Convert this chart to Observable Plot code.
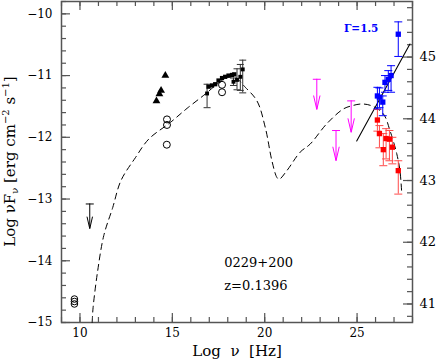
<!DOCTYPE html>
<html><head><meta charset="utf-8">
<script src="https://cdn.jsdelivr.net/npm/d3@7"></script>
<script src="https://cdn.jsdelivr.net/npm/@observablehq/plot@0.6"></script>
<style>body{margin:0;background:#fff;} svg{display:block}</style>
</head><body><div id="chart"></div>
<script>
// ---- data (log nu [Hz], log nuFnu [erg cm^-2 s^-1]) ----
const modelLogNu = [10.66, 10.71, 10.96, 11.29, 11.77, 12.22, 13.0, 13.72, 14.89, 15.8, 16.78, 17.5, 18.0, 18.4, 18.95, 19.58, 20.03, 20.39, 20.66, 20.78, 21.2, 21.92, 22.46, 23.36, 24.26, 24.71, 25.25, 25.79, 26.42, 26.78, 27.15, 27.32, 27.42];
const modelLogF  = [-15.0, -14.76, -14.16, -13.59, -13.14, -12.70, -12.33, -12.03, -11.76, -11.53, -11.30, -11.12, -11.03, -11.03, -11.19, -11.41, -11.84, -12.38, -12.65, -12.68, -12.54, -12.24, -12.11, -11.78, -11.54, -11.49, -11.46, -11.49, -11.62, -11.89, -12.27, -12.54, -12.92];

const radioLogNu = [9.70, 9.70, 9.70];
const radioLogF  = [-14.62, -14.66, -14.70];

const radioULLogNu = [10.53];
const radioULTop   = [-13.08];
const radioULTip   = [-13.48];

const irLogNu = [14.14, 14.30, 14.39, 14.62];
const irLogF  = [-11.41, -11.30, -11.24, -11.00];

const optCircLogNu = [14.71, 14.71, 14.70, 17.69, 17.69];
const optCircLogF  = [-11.71, -11.80, -12.12, -11.15, -11.27];

const xLogNu = [16.96, 17.15, 17.32, 17.50, 17.69, 17.86, 18.04, 18.23, 18.35];
const xLogF  = [-11.18, -11.16, -11.14, -11.08, -11.04, -11.02, -11.00, -10.99, -10.98];

const errLogNu = [16.88, 18.31, 18.50, 18.68, 18.81];
const errLogF  = [-11.29, -11.10, -11.07, -11.02, -10.90];
const errLo    = [-11.52, -11.16, -11.23, -11.24, -11.28];
const errHi    = [-11.14, -11.04, -10.89, -10.82, -10.75];

const magULLogNu = [22.82, 23.86, 24.68];
const magULTop   = [-11.06, -11.89, -11.41];
const magULTip   = [-11.55, -12.38, -11.92];

const blueLogNu = [26.10, 26.21, 26.39, 26.51, 26.69, 26.84, 27.23];
const blueLogF  = [-11.33, -11.35, -11.43, -11.11, -11.06, -11.00, -10.33];
const blueLo    = [-11.54, -11.52, -11.65, -11.27, -11.24, -11.27, -10.69];
const blueHi    = [-11.19, -11.20, -11.33, -11.00, -10.92, -10.84, -10.13];

const redLogNu = [26.10, 26.21, 26.57, 26.75, 26.42, 26.91, 27.23];
const redLogF  = [-11.72, -11.94, -12.02, -12.03, -12.20, -12.16, -12.54];
const redLo    = [-11.90, -12.17, -12.35, -12.38, -12.46, -12.43, -12.92];
const redHi    = [-11.55, -11.81, -11.86, -11.89, -11.94, -12.00, -12.38];

const plLogNu = [24.98, 27.86];
const plLogF  = [-12.06, -10.49];

// axes
const xMajor = [10, 15, 20, 25];
const xMinor = d3.range(9, 29, 1);
const yMajor = [-15, -14, -13, -12, -11, -10];
const yMinor = d3.range(-15, -9.79, 0.2);
const lumOffset = 55.70;
const lumMajor = [41, 42, 43, 44, 45];
const lumMinor = d3.range(40.8, 45.81, 0.2);

const labels = ["0229+200", "z=0.1396"];
const labelLogNu = [17.81, 17.81];
const labelLogF = [-14.03, -14.40];
const gammaText = ["Γ=1.5"];
const gammaLogNu = [25.22];
const gammaLogF = [-10.24];

// ---- helpers ----
const zip = (xs, ys, extra = {}) => xs.map((x, i) => {
  const o = {x, y: ys[i]};
  for (const k in extra) o[k] = extra[k][i];
  return o;
});
const capSym = {draw(ctx, size) { const w = Math.sqrt(size / Math.PI); ctx.moveTo(-w, 0); ctx.lineTo(w, 0); }};
const headSym = {draw(ctx, size) { const h = Math.sqrt(size / Math.PI); const w = h * 0.23; ctx.moveTo(-w, -h); ctx.lineTo(0, 0); ctx.lineTo(w, -h); }};

const model = zip(modelLogNu, modelLogF);
const radio = zip(radioLogNu, radioLogF);
const radioUL = zip(radioULLogNu, radioULTop, {tip: radioULTip});
const ir = zip(irLogNu, irLogF);
const optCirc = zip(optCircLogNu, optCircLogF);
const xcl = zip(xLogNu, xLogF);
const err = zip(errLogNu, errLogF, {lo: errLo, hi: errHi});
const magUL = zip(magULLogNu, magULTop, {tip: magULTip});
const blue = zip(blueLogNu, blueLogF, {lo: blueLo, hi: blueHi});
const red = zip(redLogNu, redLogF, {lo: redLo, hi: redHi});
const pl = zip(plLogNu, plLogF);

const W = 436, H = 363, mL = 61, mR = 24, mT = 1, mB = 41;
const PW = W - mL - mR, PH = H - mT - mB;
const axisCol = "#555";
const BLUE = "#0000ff", RED = "#ff0000", REDBAR = "#ff4a4a", MAG = "#ff00ff";

function errorBars(data, color, capR = 4) {
  return [
    Plot.ruleX(data, {x: "x", y1: "lo", y2: "hi", stroke: color, strokeWidth: 1}),
    Plot.dot(data, {x: "x", y: "lo", symbol: capSym, r: capR, stroke: color, fill: "none", strokeWidth: 1}),
    Plot.dot(data, {x: "x", y: "hi", symbol: capSym, r: capR, stroke: color, fill: "none", strokeWidth: 1})
  ];
}
function upperLimits(data, color, headLen) {
  return [
    Plot.ruleX(data, {x: "x", y1: "y", y2: "tip", stroke: color, strokeWidth: 1}),
    Plot.dot(data, {x: "x", y: "y", symbol: capSym, r: 4, stroke: color, fill: "none", strokeWidth: 1}),
    Plot.dot(data, {x: "x", y: "tip", symbol: headSym, r: headLen, stroke: color, fill: "none", strokeWidth: 1})
  ];
}
const fmtMinus = d => d < 0 ? "\u2212" + Math.abs(d) : String(d);

const svg = Plot.plot({
  width: W, height: H,
  marginLeft: mL, marginRight: mR, marginTop: mT, marginBottom: mB,
  x: {domain: [9, 28]},
  y: {domain: [-15, -9.8]},
  style: {fontFamily: "DejaVu Serif", background: "white", color: "black"},
  marks: [
    // ticks (inward)
    Plot.tickX(xMinor, {x: d => d, insetTop: PH - 5, stroke: axisCol, strokeWidth: 1.2}),
    Plot.tickX(xMajor, {x: d => d, insetTop: PH - 9, stroke: axisCol, strokeWidth: 1.2}),
    Plot.tickX(xMinor, {x: d => d, insetBottom: PH - 5, stroke: axisCol, strokeWidth: 1.2}),
    Plot.tickX(xMajor, {x: d => d, insetBottom: PH - 9, stroke: axisCol, strokeWidth: 1.2}),
    Plot.tickY(yMinor, {y: d => d, insetRight: PW - 5, stroke: axisCol, strokeWidth: 1.2}),
    Plot.tickY(yMajor, {y: d => d, insetRight: PW - 9, stroke: axisCol, strokeWidth: 1.2}),
    Plot.tickY(lumMinor, {y: d => d - lumOffset, insetLeft: PW - 5, stroke: axisCol, strokeWidth: 1.2}),
    Plot.tickY(lumMajor, {y: d => d - lumOffset, insetLeft: PW - 9, stroke: axisCol, strokeWidth: 1.2}),
    Plot.axisX({ticks: xMajor, tickSize: 0, tickPadding: 6, fontSize: 12, label: null, tickFormat: fmtMinus}),
    Plot.axisY({ticks: yMajor, tickSize: 0, tickPadding: 9, fontSize: 12, label: null, tickFormat: fmtMinus}),
    Plot.axisY({anchor: "right", ticks: lumMajor.map(d => d - lumOffset), tickSize: 0, tickPadding: 7, fontSize: 13, label: null, tickFormat: d => String(Math.round(d + lumOffset))}),
    Plot.frame({stroke: axisCol, strokeWidth: 1.5}),

    // model curve
    Plot.line(model, {x: "x", y: "y", curve: "catmull-rom", stroke: "black", strokeWidth: 1, strokeDasharray: "6,4.5"}),
    // power law
    Plot.line(pl, {x: "x", y: "y", stroke: "black", strokeWidth: 1.1}),

    // radio
    Plot.dot(radio, {x: "x", y: "y", r: 3.3, stroke: "black", fill: "none", strokeWidth: 1}),
    ...upperLimits(radioUL, "black", 12),
    // IR triangles
    Plot.dot(ir, {x: "x", y: "y", symbol: "triangle", r: 2.9, fill: "black"}),
    // optical open circles
    Plot.dot(optCirc, {x: "x", y: "y", r: 3.5, stroke: "black", fill: "none", strokeWidth: 1}),
    // error bars (UV / X)
    ...errorBars(err, "#333", 3.5),
    Plot.dot(err, {x: "x", y: "y", symbol: "square", r: 2.2, fill: "black"}),
    Plot.dot(xcl, {x: "x", y: "y", symbol: "square", r: 2.4, fill: "black"}),

    // magenta upper limits
    ...upperLimits(magUL, MAG, 14),

    // red
    ...errorBars(red, REDBAR, 4),
    Plot.dot(red, {x: "x", y: "y", symbol: "square", r: 3.0, fill: RED}),
    // blue
    ...errorBars(blue, BLUE, 4),
    Plot.dot(blue, {x: "x", y: "y", symbol: "square", r: 3.0, fill: BLUE}),

    // annotations
    Plot.text(labels, {x: (d, i) => labelLogNu[i], y: (d, i) => labelLogF[i], text: d => d, textAnchor: "start", fontSize: 13, fill: "black"}),
    Plot.text(gammaText, {x: (d, i) => gammaLogNu[i], y: (d, i) => gammaLogF[i], text: d => d, fontSize: 10.5, fontWeight: "bold", fill: BLUE}),
    Plot.text(["Log  \u03bd  [Hz]"], {frameAnchor: "bottom", dy: 33, fontSize: 15, fill: "black"})
  ]
});

// y-axis title with sub/superscripts
const t = d3.select(svg).append("text")
  .attr("transform", `translate(15,${mT + PH / 2}) rotate(-90)`)
  .attr("text-anchor", "middle")
  .attr("font-family", "DejaVu Serif")
  .attr("font-size", 15)
  .attr("fill", "black");
t.append("tspan").text("Log \u03bdF");
t.append("tspan").attr("dy", 3).attr("font-size", 10).text("\u03bd");
t.append("tspan").attr("dy", -3).text(" [erg cm");
t.append("tspan").attr("dy", -6).attr("font-size", 10).text("\u22122");
t.append("tspan").attr("dy", 6).text(" s");
t.append("tspan").attr("dy", -6).attr("font-size", 10).text("\u22121");
t.append("tspan").attr("dy", 6).text("]");

document.getElementById("chart").appendChild(svg);
</script>
</body></html>
